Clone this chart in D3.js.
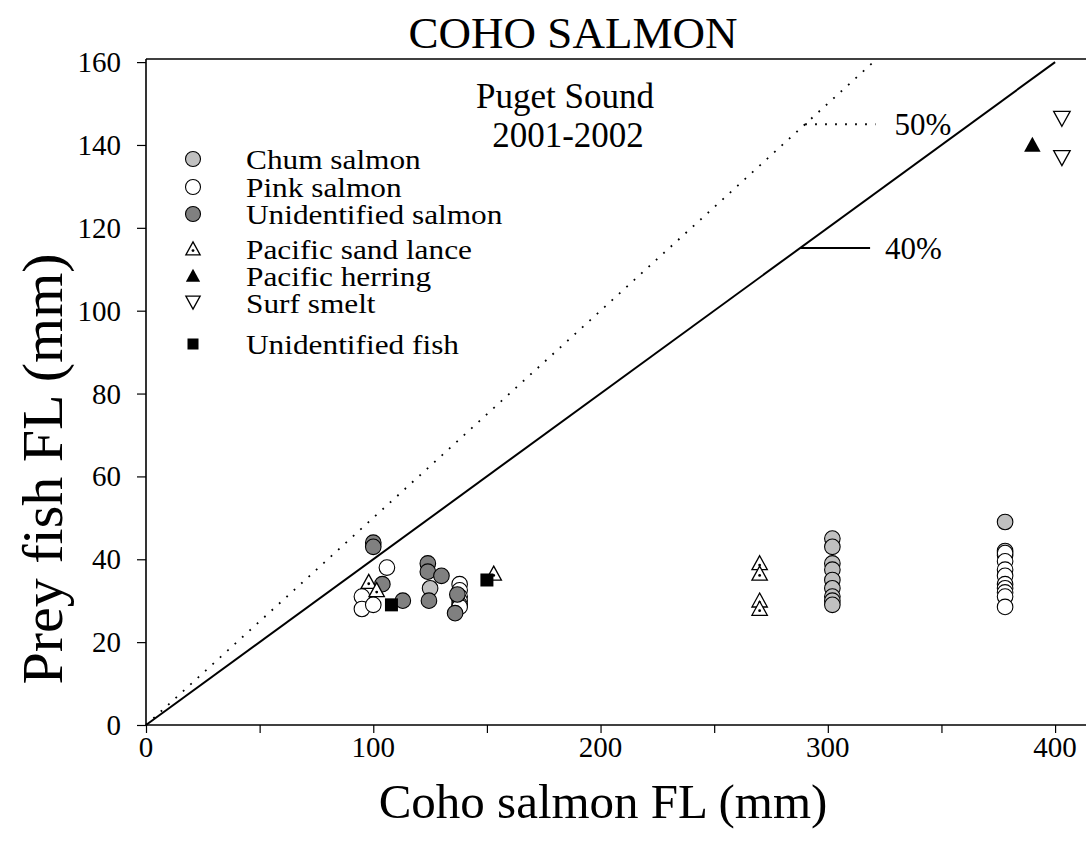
<!DOCTYPE html>
<html>
<head>
<meta charset="utf-8">
<script src="https://cdn.jsdelivr.net/npm/d3@7"></script>
<style>
  html, body { margin: 0; padding: 0; background: #fff; }
  svg text { font-family: "Liberation Serif", "Times New Roman", serif; fill: #000; }
</style>
</head>
<body>
<svg id="chart" width="1086" height="848"></svg>
<script>
// Prey fish fork length vs. coho salmon fork length, Puget Sound 2001-2002
const chumSalmon = [
  [125, 33],
  [302, 45], [302, 43], [302, 39], [302, 37.5], [302, 35], [302, 33], [302, 31], [302, 30], [302, 29],
  [378, 49], [378, 42], [378, 41]
];
const pinkSalmon = [
  [106, 38], [95, 31], [95, 28], [100, 29],
  [138, 34], [138, 32.5], [138, 31], [138, 30], [138, 29], [138, 28.5],
  [378, 41.5], [378, 39.5], [378, 37.5], [378, 36], [378, 34], [378, 33], [378, 32], [378, 31], [378, 28.5]
];
const unidentifiedSalmon = [
  [100, 44], [100, 43], [104, 34], [113, 30], [124, 39], [124, 37], [130, 36],
  [124.5, 30], [137, 31.5], [136, 27]
];
const sandLance = [
  [98, 34.5], [101.5, 32.5], [153, 36.5], [270, 39], [270, 36.5], [270, 30], [270, 28]
];
const pacificHerring = [[390, 140]];
const surfSmelt = [[403, 146.5], [403, 137]];
const unidentifiedFish = [[108, 29], [150, 35]];

const xTicksMajor = [0, 100, 200, 300, 400];
const xTicksMinor = [50, 150, 250, 350];
const yTicks = [0, 20, 40, 60, 80, 100, 120, 140, 160];

// reference lines: prey length as a fraction of predator length
const ratioLines = [
  { label: "40%", ratio: 0.40, xEnd: 400, dash: null, leader: [287.8, 318.6], gap: 15 },
  { label: "50%", ratio: 0.50, xEnd: 320, dash: "1.8,8.2", leader: [290, 321], gap: 19 }
];

const svg = d3.select("#chart");
const x = d3.scaleLinear().domain([0, 413.6]).range([146, 1086]);
const y = d3.scaleLinear().domain([0, 160.75]).range([725, 59]);

// axes
const gx = svg.append("g").attr("transform", `translate(0,${y(0)})`);
gx.call(d3.axisBottom(x).tickValues(xTicksMajor.concat(xTicksMinor)).tickSize(8).tickFormat(() => ""));
gx.select(".domain").attr("stroke-width", 1.6).attr("d", `M${x(0)},0H${x(413.6)}`);
gx.selectAll(".tick line").attr("stroke-width", 1.2);
gx.selectAll(".tick text").remove();
svg.append("g").selectAll("text").data(xTicksMajor).join("text")
  .attr("x", d => x(d)).attr("y", 757)
  .attr("text-anchor", "middle").attr("font-size", 29)
  .text(d => d);

const gy = svg.append("g").attr("transform", `translate(${x(0)},0)`);
gy.call(d3.axisLeft(y).tickValues(yTicks).tickSize(9).tickFormat(() => ""));
gy.select(".domain").attr("stroke-width", 1.6).attr("d", `M0,${y(0)}V${y(160.75)}`);
gy.selectAll(".tick line").attr("stroke-width", 1.2);
gy.selectAll(".tick text").remove();
svg.append("g").selectAll("text").data(yTicks).join("text")
  .attr("x", 121).attr("y", d => y(d) + 10)
  .attr("text-anchor", "end").attr("font-size", 29)
  .text(d => d);

// top frame line
svg.append("line")
  .attr("x1", x(0)).attr("x2", x(413.6)).attr("y1", y(160.75)).attr("y2", y(160.75))
  .attr("stroke", "#000").attr("stroke-width", 1.6);

// ratio lines and their labels
ratioLines.forEach(r => {
  svg.append("line")
    .attr("x1", x(0)).attr("y1", y(0))
    .attr("x2", x(r.xEnd)).attr("y2", y(r.xEnd * r.ratio))
    .attr("stroke", "#000").attr("stroke-width", r.dash ? 1.8 : 2)
    .attr("stroke-dasharray", r.dash);
  const yv = r.leader[0] * r.ratio;
  svg.append("line")
    .attr("x1", x(r.leader[0])).attr("x2", x(r.leader[1]))
    .attr("y1", y(yv)).attr("y2", y(yv))
    .attr("stroke", "#000").attr("stroke-width", r.dash ? 1.8 : 2)
    .attr("stroke-dasharray", r.dash);
  svg.append("text")
    .attr("x", x(r.leader[1]) + r.gap).attr("y", y(yv) + 10.5)
    .attr("font-size", 31).text(r.label);
});

// marker shapes
const triUp = s => `M0,${-s * 0.55}L${s * 0.55},${s * 0.45}L${-s * 0.55},${s * 0.45}Z`;
const triDown = s => `M0,${s * 0.55}L${s * 0.55},${-s * 0.45}L${-s * 0.55},${-s * 0.45}Z`;

function circles(data, fill) {
  svg.append("g").selectAll("circle").data(data).join("circle")
    .attr("cx", d => x(d[0])).attr("cy", d => y(d[1])).attr("r", 7.8)
    .attr("fill", fill).attr("stroke", "#000").attr("stroke-width", 1.1);
}
function sandLanceMark(g, s) {
  g.append("path").attr("d", triUp(s)).attr("fill", "#fff").attr("stroke", "#000").attr("stroke-width", 1.3);
  g.append("circle").attr("cx", 0).attr("cy", s * 0.12).attr("r", 1.4).attr("fill", "#000");
}

circles(chumSalmon, "#c0c0c0");
circles(pinkSalmon, "#ffffff");
circles(unidentifiedSalmon, "#808080");

svg.append("g").selectAll("g").data(sandLance).join("g")
  .attr("transform", d => `translate(${x(d[0])},${y(d[1])})`)
  .each(function () { sandLanceMark(d3.select(this), 14); });

svg.append("g").selectAll("path").data(pacificHerring).join("path")
  .attr("transform", d => `translate(${x(d[0])},${y(d[1])})`)
  .attr("d", triUp(15)).attr("fill", "#000");

svg.append("g").selectAll("path").data(surfSmelt).join("path")
  .attr("transform", d => `translate(${x(d[0])},${y(d[1])})`)
  .attr("d", triDown(15)).attr("fill", "#fff").attr("stroke", "#000").attr("stroke-width", 1.3);

svg.append("g").selectAll("rect").data(unidentifiedFish).join("rect")
  .attr("x", d => x(d[0]) - 6.5).attr("y", d => y(d[1]) - 6.5)
  .attr("width", 13).attr("height", 13).attr("fill", "#000");

// legend
const legendItems = [
  { name: "Chum salmon", kind: "circle", fill: "#c0c0c0", y: 159, ty: 169 },
  { name: "Pink salmon", kind: "circle", fill: "#ffffff", y: 187, ty: 197 },
  { name: "Unidentified salmon", kind: "circle", fill: "#808080", y: 214, ty: 224 },
  { name: "Pacific sand lance", kind: "lance", y: 249, ty: 259 },
  { name: "Pacific herring", kind: "herring", y: 276, ty: 286 },
  { name: "Surf smelt", kind: "smelt", y: 302, ty: 313 },
  { name: "Unidentified fish", kind: "square", y: 344, ty: 354 }
];
const lg = svg.append("g");
legendItems.forEach(it => {
  const g = lg.append("g").attr("transform", `translate(193,${it.y})`);
  if (it.kind === "circle") {
    g.append("circle").attr("r", 7.5).attr("fill", it.fill).attr("stroke", "#000").attr("stroke-width", 1.1);
  } else if (it.kind === "lance") {
    sandLanceMark(g, 13);
  } else if (it.kind === "herring") {
    g.append("path").attr("d", triUp(13)).attr("fill", "#000");
  } else if (it.kind === "smelt") {
    g.append("path").attr("d", triDown(13)).attr("fill", "#fff").attr("stroke", "#000").attr("stroke-width", 1.3);
  } else {
    g.append("rect").attr("x", -5.5).attr("y", -5.5).attr("width", 11).attr("height", 11).attr("fill", "#000");
  }
  // slightly condensed height, widened glyphs, to keep the tight row spacing
  lg.append("text")
    .attr("transform", `translate(246,${it.ty}) scale(1.16,1)`)
    .attr("font-size", 27).text(it.name);
});

// titles
svg.append("text").attr("x", 573).attr("y", 48).attr("text-anchor", "middle")
  .attr("font-size", 45).text("COHO SALMON");
svg.append("text").attr("x", 565).attr("y", 108).attr("text-anchor", "middle")
  .attr("font-size", 35).text("Puget Sound");
svg.append("text").attr("x", 568).attr("y", 147).attr("text-anchor", "middle")
  .attr("font-size", 35).text("2001-2002");
svg.append("text").attr("x", 603).attr("y", 818).attr("text-anchor", "middle")
  .attr("font-size", 49).text("Coho salmon FL (mm)");
svg.append("text").attr("transform", "translate(62,469) rotate(-90)").attr("text-anchor", "middle")
  .attr("font-size", 58).text("Prey fish FL (mm)");
</script>
</body>
</html>
